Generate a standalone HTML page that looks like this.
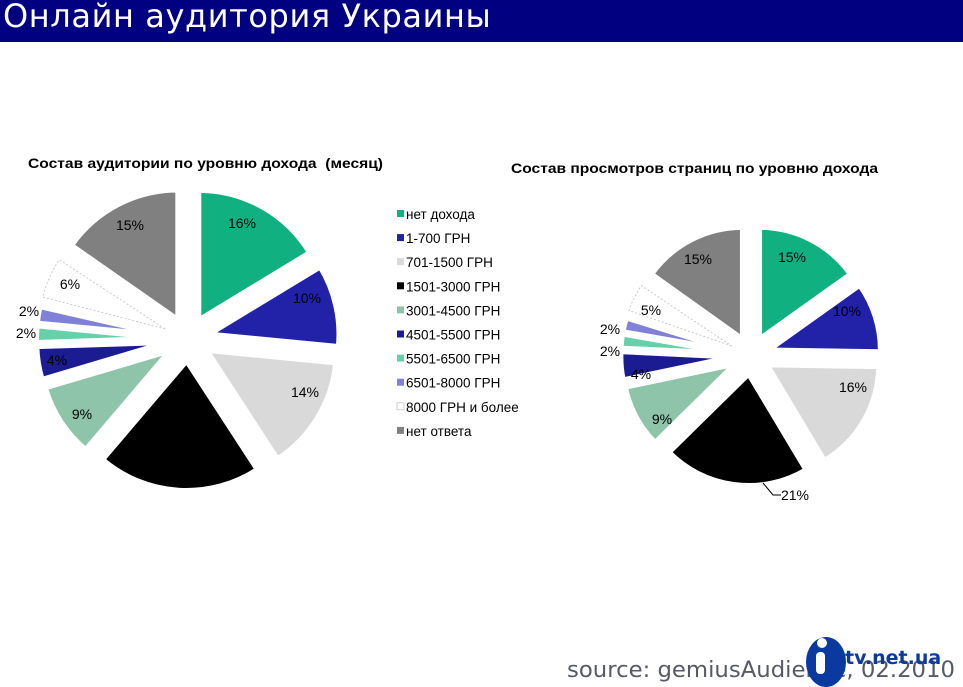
<!DOCTYPE html>
<html><head><meta charset="utf-8"><style>
body{margin:0;width:963px;height:687px;overflow:hidden;background:#fff;font-family:"Liberation Sans",sans-serif;position:relative}
#hdr{position:absolute;left:0;top:0;width:963px;height:42px;background:#000080}
#hdr span{position:absolute;left:3px;top:-3px;color:#fff;font-family:"DejaVu Sans",sans-serif;font-size:32px;white-space:nowrap;letter-spacing:0.6px}
</style></head><body>
<div id="hdr"><span>Онлайн аудитория Украины</span></div>
<svg id="s" width="963" height="687" style="position:absolute;left:0;top:0" xmlns="http://www.w3.org/2000/svg">
<g font-family="Liberation Sans, sans-serif" font-weight="bold" font-size="14" fill="#000">
<text x="28" y="168" textLength="355" lengthAdjust="spacingAndGlyphs" xml:space="preserve">Состав аудитории по уровню дохода  (месяц)</text>
<text x="511" y="173" textLength="367" lengthAdjust="spacingAndGlyphs">Состав просмотров страниц по уровню дохода</text>
</g>
<g id="p1"></g><g id="p2"></g>
<g font-family="Liberation Sans, sans-serif" font-size="14" fill="#000">
<text x="242" y="228" text-anchor="middle">16%</text>
<text x="307" y="303" text-anchor="middle">10%</text>
<text x="305" y="397" text-anchor="middle">14%</text>
<text x="82" y="419" text-anchor="middle">9%</text>
<text x="57" y="365" text-anchor="middle">4%</text>
<text x="26" y="338" text-anchor="middle">2%</text>
<text x="29" y="316" text-anchor="middle">2%</text>
<text x="70" y="289" text-anchor="middle">6%</text>
<text x="130" y="230" text-anchor="middle">15%</text>
<text x="792" y="262" text-anchor="middle">15%</text>
<text x="847" y="316" text-anchor="middle">10%</text>
<text x="853" y="392" text-anchor="middle">16%</text>
<text x="795" y="500" text-anchor="middle">21%</text>
<text x="662" y="424" text-anchor="middle">9%</text>
<text x="641" y="379" text-anchor="middle">4%</text>
<text x="610" y="356" text-anchor="middle">2%</text>
<text x="610" y="334" text-anchor="middle">2%</text>
<text x="651" y="315" text-anchor="middle">5%</text>
<text x="698" y="264" text-anchor="middle">15%</text>
</g>
<polyline points="763,483 773,495 781,495" fill="none" stroke="#000" stroke-width="1"/>
<g id="lg" font-family="Liberation Sans, sans-serif" font-size="13.5" fill="#000"></g>
<text x="955" y="677" text-anchor="end" font-family="DejaVu Sans, sans-serif" font-size="22" textLength="388" lengthAdjust="spacingAndGlyphs" fill="#555a66">source: gemiusAudience, 02.2010</text>
<g fill="#0a3aa0">
<ellipse cx="826" cy="662" rx="20" ry="25"/>
<circle cx="822" cy="643" r="5" fill="#fff"/>
<rect x="816" y="652" width="9" height="22" rx="4" fill="#fff"/>
<text x="845" y="664" font-family="DejaVu Sans, sans-serif" font-weight="bold" font-size="19">tv.net.ua</text>
</g>
</svg>
<script>
var cols=["#10b080","#2222a8","#d9d9d9","#000000","#8ec4aa","#1c1c92","#66d0a8","#8080d8","#ffffff","#808080"];
function pie(id,cx,cy,r,d,vals){
 var g=document.getElementById(id),tot=vals.reduce((a,b)=>a+b,0),a=0,h="",dash="";
 vals.forEach(function(v,i){
  var a0=a/tot*2*Math.PI,a1=(a+v)/tot*2*Math.PI;a+=v;var m=(a0+a1)/2;
  var ox=cx+d*Math.sin(m),oy=cy-d*Math.cos(m);
  var x0=ox+r*Math.sin(a0),y0=oy-r*Math.cos(a0),x1=ox+r*Math.sin(a1),y1=oy-r*Math.cos(a1);
  var p='M'+ox+' '+oy+'L'+x0+' '+y0+'A'+r+' '+r+' 0 '+((a1-a0)>Math.PI?1:0)+' 1 '+x1+' '+y1+'Z';
  if(i==8){var rr=r-3,od=d+3,ox2=cx+od*Math.sin(m),oy2=cy-od*Math.cos(m);
    dash='<path d="M'+ox2+' '+oy2+'L'+(ox2+rr*Math.sin(a0+0.03))+' '+(oy2-rr*Math.cos(a0+0.03))+'A'+rr+' '+rr+' 0 0 1 '+(ox2+rr*Math.sin(a1-0.03))+' '+(oy2-rr*Math.cos(a1-0.03))+'Z" fill="none" stroke="#ccc" stroke-dasharray="2,2"/>';}
  h+='<path d="'+p+'" fill="'+(i==8?'none':cols[i])+'" stroke="#fff" stroke-width="5" stroke-linejoin="miter"/>';
 });
 g.innerHTML=h+dash;
}
pie("p1",188,339,129.5,22,[16,10,14,20,9,4,2,2,6,15]);
pie("p2",751,355.5,111.5,18.7,[15,10,16,21,9,4,2,2,5,15]);
var names=["нет дохода","1-700 ГРН","701-1500 ГРН","1501-3000 ГРН","3001-4500 ГРН","4501-5500 ГРН","5501-6500 ГРН","6501-8000 ГРН","8000 ГРН и более","нет ответа"];
var lh="";
names.forEach(function(n,i){var y=214+i*24.1;
 lh+='<rect x="397" y="'+(y-4)+'" width="7" height="7" fill="'+cols[i]+'"'+(i==8?' stroke="#bbb" stroke-width="0.7"':'')+'/>';
 lh+='<text x="406" y="'+(y+5)+'">'+n+'</text>';});
document.getElementById("lg").innerHTML=lh;
</script>
</body></html>
